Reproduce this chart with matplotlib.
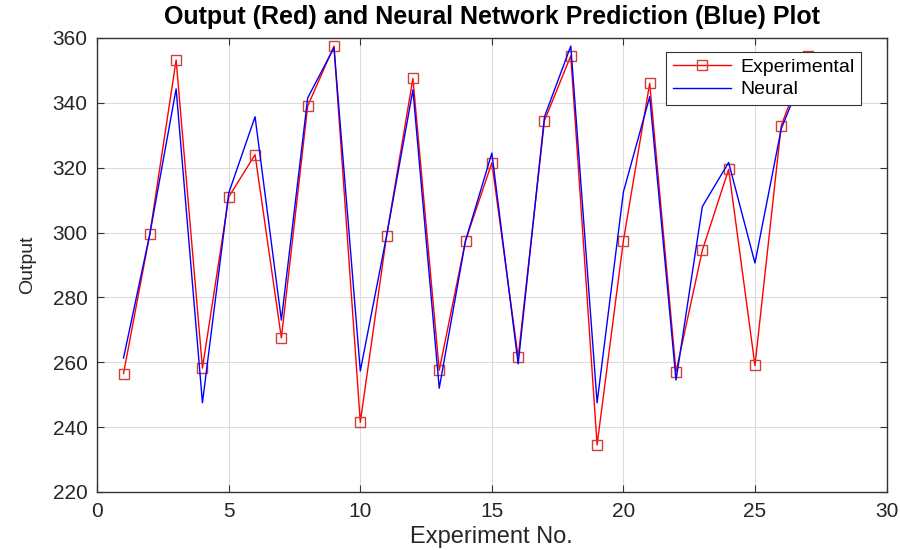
import matplotlib
matplotlib.use("Agg")
import matplotlib.pyplot as plt

# Datos
experiment = list(range(1, 28))
experimental = [256.5, 299.5, 353.2, 258.2, 311.0, 324.0, 267.5, 339.0, 357.5,
                241.5, 299.0, 347.5, 257.5, 297.5, 321.5, 261.5, 334.5, 354.5,
                234.5, 297.5, 346.0, 257.0, 294.5, 319.5, 259.0, 333.0, 354.5]
neural = [261.3, 299.5, 344.3, 247.5, 312.2, 335.7, 273.0, 341.5, 357.0,
          257.3, 299.0, 344.0, 252.0, 297.5, 324.5, 259.5, 335.7, 357.5,
          247.5, 312.5, 341.9, 254.5, 308.0, 321.6, 290.6, 332.0, 352.0]

plt.rcParams['font.family'] = ['Liberation Sans', 'DejaVu Sans']

fig = plt.figure(figsize=(9, 5.5), dpi=100)
ax = fig.add_axes([0.108, 0.1055, 0.877, 0.8255])

ax.plot(experiment, experimental, color='red', linewidth=1.0, marker='s',
        markersize=7, markerfacecolor='none', markeredgecolor='#d0403a',
        markeredgewidth=1.0, label='Experimental')
ax.plot(experiment, neural, color='blue', linewidth=1.0, label='Neural')

ax.set_xlim(0, 30)
ax.set_ylim(220, 360)
ax.set_xticks(range(0, 31, 5))
ax.set_yticks(range(220, 361, 20))
ax.grid(True, color='#dcdcdc', linewidth=0.8)
ax.tick_params(direction='in', top=True, right=True, labelsize=15,
               length=5, pad=7, color='#333333', labelcolor='#262626')
for sp in ax.spines.values():
    sp.set_color('#333333')
    sp.set_linewidth(1.0)

ax.set_title('Output (Red) and Neural Network Prediction (Blue) Plot',
             fontsize=18, fontweight='bold', pad=10)
ax.set_xlabel('Experiment No.', fontsize=17, labelpad=4, color='#262626')
ax.set_ylabel('Output', fontsize=14, labelpad=12, color='#262626')

leg = ax.legend(loc='upper right', bbox_to_anchor=(0.968, 0.97), fontsize=14,
                fancybox=False, framealpha=1, edgecolor='#333333',
                borderaxespad=0, borderpad=0.35, handlelength=3.0,
                handletextpad=0.45, labelspacing=0.25)
leg.get_frame().set_linewidth(0.8)
leg.set_zorder(5)

fig.savefig('out.png', dpi=100)
